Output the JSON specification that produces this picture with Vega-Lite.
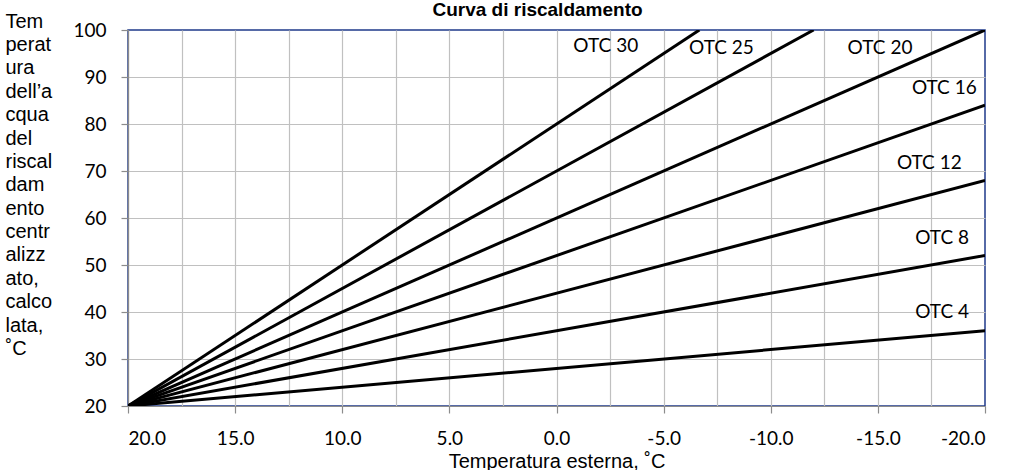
{
  "$schema": "https://vega.github.io/schema/vega-lite/v6.json",
  "autosize": "none",
  "width": 857,
  "height": 376,
  "padding": {"left": 128, "top": 30, "right": 24, "bottom": 64},
  "background": "white",
  "config": {
    "view": {"stroke": "#1f3a8a", "strokeWidth": 1.5},
    "axis": {
      "labelFont": "Lato",
      "labelFontSize": 19,
      "labelColor": "#000000",
      "titleFont": "Liberation Sans",
      "titleFontSize": 20,
      "titleFontWeight": "normal",
      "titleColor": "#000000",
      "domainColor": "#8c8c8c",
      "domainWidth": 1.2,
      "tickColor": "#8c8c8c",
      "tickWidth": 1.2,
      "tickSize": 7,
      "gridColor": "#c0c0c0",
      "gridWidth": 1.2,
      "gridOpacity": 1,
      "labelPadding": 15
    }
  },
  "datasets": {
    "curves": [
      {"serie": "OTC 4", "esterna": 20, "mandata": 20},
      {"serie": "OTC 4", "esterna": -20, "mandata": 36},
      {"serie": "OTC 8", "esterna": 20, "mandata": 20},
      {"serie": "OTC 8", "esterna": -20, "mandata": 52},
      {"serie": "OTC 12", "esterna": 20, "mandata": 20},
      {"serie": "OTC 12", "esterna": -20, "mandata": 68},
      {"serie": "OTC 16", "esterna": 20, "mandata": 20},
      {"serie": "OTC 16", "esterna": -20, "mandata": 84},
      {"serie": "OTC 20", "esterna": 20, "mandata": 20},
      {"serie": "OTC 20", "esterna": -20, "mandata": 100},
      {"serie": "OTC 25", "esterna": 20, "mandata": 20},
      {"serie": "OTC 25", "esterna": -12, "mandata": 100},
      {"serie": "OTC 30", "esterna": 20, "mandata": 20},
      {"serie": "OTC 30", "esterna": -6.67, "mandata": 100}
    ],
    "labels": [
      {"serie": "OTC 30", "esterna": -2.3, "mandata": 96.6},
      {"serie": "OTC 25", "esterna": -7.7, "mandata": 96.2},
      {"serie": "OTC 20", "esterna": -15.1, "mandata": 96.2},
      {"serie": "OTC 16", "esterna": -18.1, "mandata": 87.7},
      {"serie": "OTC 12", "esterna": -17.4, "mandata": 71.7},
      {"serie": "OTC 8", "esterna": -18.0, "mandata": 55.7},
      {"serie": "OTC 4", "esterna": -18.0, "mandata": 40.0}
    ]
  },
  "resolve": {"axis": {"x": "independent"}},
  "layer": [
    {
      "data": {"name": "curves"},
      "mark": {"type": "line", "color": "#000000", "strokeWidth": 3, "clip": true},
      "encoding": {
        "x": {
          "field": "esterna",
          "type": "quantitative",
          "scale": {"domain": [-20, 20], "reverse": true, "nice": false, "zero": false},
          "axis": {
            "title": "Temperatura esterna, ˚C",
            "titlePadding": 3,
            "labelPadding": 16,
            "values": [20, 17.5, 15, 12.5, 10, 7.5, 5, 2.5, 0, -2.5, -5, -7.5, -10, -12.5, -15, -17.5, -20],
            "labelExpr": "datum.value % 5 === 0 ? replace(format(datum.value, '.1f'), '−', '-') : ''",
            "tickColor": {"condition": {"test": "datum.value % 5 !== 0", "value": "transparent"}, "value": "#8c8c8c"},
            "gridColor": {"condition": {"test": "datum.value === -20", "value": "transparent"}, "value": "#c0c0c0"}
          }
        },
        "y": {
          "field": "mandata",
          "type": "quantitative",
          "scale": {"domain": [20, 100], "nice": false, "zero": false},
          "axis": {
            "values": [20, 30, 40, 50, 60, 70, 80, 90, 100],
            "title": ["Tem", "perat", "ura", "dell’a", "cqua", "del", "riscal", "dam", "ento", "centr", "alizz", "ato,", "calco", "lata,", "˚C"],
            "titleAngle": 0,
            "titleAlign": "left",
            "titleBaseline": "top",
            "titleLineHeight": 23.4,
            "titleX": -123,
            "titleY": -19,
            "labelPadding": 15,
            "gridColor": {"condition": {"test": "datum.value === 100", "value": "transparent"}, "value": "#c0c0c0"}
          }
        },
        "detail": {"field": "serie"}
      }
    },
    {
      "data": {"name": "labels"},
      "mark": {"type": "text", "font": "Lato", "fontSize": 19, "color": "#000000", "align": "center", "baseline": "middle"},
      "encoding": {
        "x": {
          "field": "esterna",
          "type": "quantitative",
          "axis": {
            "orient": "top",
            "labels": false,
            "ticks": false,
            "domain": false,
            "grid": false,
            "title": "Curva di riscaldamento",
            "titleFont": "Liberation Sans",
            "titleFontSize": 19,
            "titleFontWeight": "bold",
            "titleAlign": "center",
            "titleBaseline": "alphabetic",
            "titleX": 409,
            "titleY": -15
          }
        },
        "y": {"field": "mandata", "type": "quantitative"},
        "text": {"field": "serie"}
      }
    }
  ]
}
